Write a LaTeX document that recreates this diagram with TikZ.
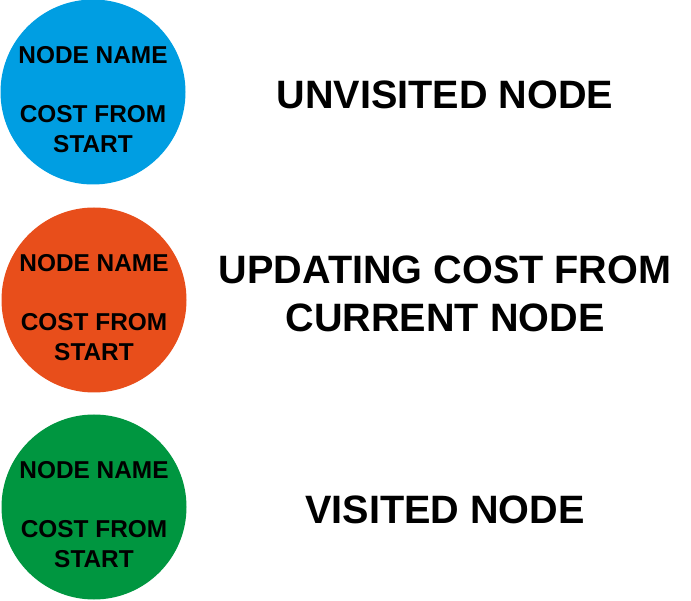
\documentclass[tikz,border=0pt]{standalone}
\usepackage{fontspec}
\setmainfont{Liberation Sans}
\usetikzlibrary{positioning}

\definecolor{unvisitedblue}{RGB}{0,158,226}
\definecolor{updatingorange}{RGB}{232,78,27}
\definecolor{visitedgreen}{RGB}{0,150,64}

\tikzset{
  keycircle/.style={circle, minimum size=185pt, inner sep=0pt},
  circtext/.style={font=\fontsize{24.4}{30}\selectfont\bfseries, align=center, inner sep=0pt},
  legendtext/.style={font=\fontsize{39.6}{48}\selectfont\bfseries, align=center, inner sep=0pt}
}

\begin{document}
\begin{tikzpicture}[x=1pt, y=-1pt]
\useasboundingbox (0,0) rectangle (691,601);

% Unvisited node
\node[keycircle, fill=unvisitedblue] (unvisited) at (93,92) {};
\node[circtext] (unvisitedname) at ([yshift=37pt]unvisited.center) {NODE NAME};
\node[circtext] (unvisitedcost) at ([yshift=-37pt]unvisited.center) {COST FROM\\START};
\node[legendtext] (unvisitedlabel) at (445,95) {UNVISITED NODE};

% Updating node
\node[keycircle, fill=updatingorange] (updating) at (94,300) {};
\node[circtext] (updatingname) at ([yshift=37pt]updating.center) {NODE NAME};
\node[circtext] (updatingcost) at ([yshift=-37pt]updating.center) {COST FROM\\START};
\node[legendtext] (updatinglabel) at (445,294) {UPDATING COST FROM\\CURRENT NODE};

% Visited node
\node[keycircle, fill=visitedgreen] (visited) at (94,507) {};
\node[circtext] (visitedname) at ([yshift=37pt]visited.center) {NODE NAME};
\node[circtext] (visitedcost) at ([yshift=-37pt]visited.center) {COST FROM\\START};
\node[legendtext] (visitedlabel) at (445,510) {VISITED NODE};

\end{tikzpicture}
\end{document}
